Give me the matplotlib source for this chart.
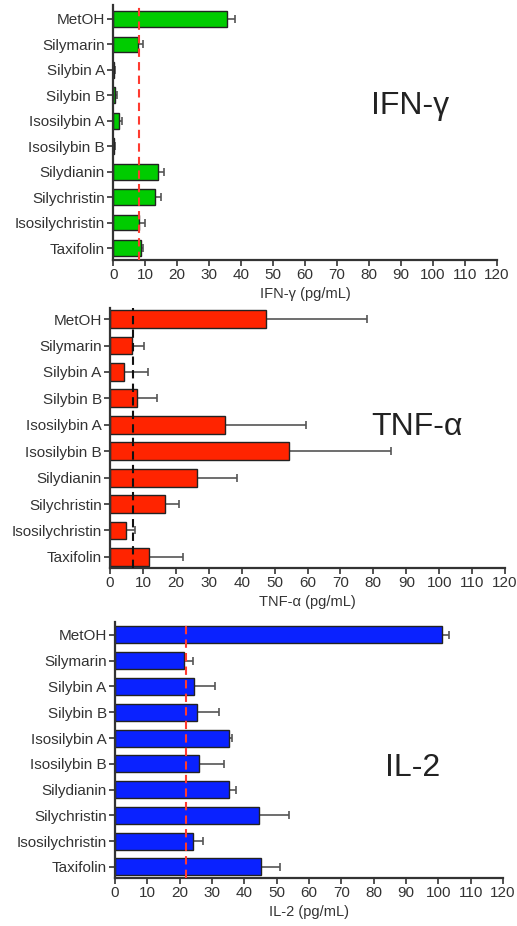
import numpy as np
import matplotlib
matplotlib.use('Agg')
import matplotlib.pyplot as plt

plt.rcParams['font.family'] = ['Liberation Sans', 'DejaVu Sans']

compounds = ['MetOH', 'Silymarin', 'Silybin A', 'Silybin B', 'Isosilybin A',
             'Isosilybin B', 'Silydianin', 'Silychristin', 'Isosilychristin', 'Taxifolin']

# upper error only
ifn_mean = [35.7, 7.8, 0.3, 0.5, 1.9, 0.3, 14.1, 13.2, 8.0, 8.6]
ifn_err = [2.3, 1.4, 0.3, 0.8, 1.0, 0.2, 1.8, 1.7, 1.9, 0.8]
ifn_ref = 8.1

tnf_mean = [47.3, 6.6, 4.3, 8.1, 35.0, 54.5, 26.3, 16.7, 4.9, 11.9]
tnf_err = [30.7, 3.8, 7.1, 6.1, 24.5, 30.8, 12.4, 4.4, 2.7, 10.2]
tnf_ref = 7.1

il2_mean = [101.2, 21.4, 24.4, 25.5, 35.4, 26.0, 35.4, 44.6, 24.2, 45.1]
il2_err = [2.2, 2.6, 6.5, 6.8, 0.9, 7.7, 1.9, 9.3, 3.1, 5.9]
il2_ref = 21.9

panels = [
    # mean, err, ref, color, ref color, name, xlabel, rect, ylim, bar h, text pos
    (ifn_mean, ifn_err, ifn_ref, '#00CC00', '#FF3B30', 'IFN-γ', 'IFN-γ (pg/mL)',
     [0.219, 0.7192, 0.742, 0.2754], (9.47, -0.55), 0.62, (93, 3.4)),
    (tnf_mean, tnf_err, tnf_ref, '#FF2400', '#111111', 'TNF-α', 'TNF-α (pg/mL)',
     [0.2128, 0.3866, 0.764, 0.2808], (9.42, -0.42), 0.68, (93.3, 4.1)),
    (il2_mean, il2_err, il2_ref, '#0A22FF', '#FF3B30', 'IL-2', 'IL-2 (pg/mL)',
     [0.2224, 0.0518, 0.7505, 0.2765], (9.43, -0.5), 0.66, (92.2, 5.15)),
]

fig = plt.figure(figsize=(5.17, 9.26), dpi=100)

for mean, err, ref, col, refcol, name, xlab, rect, ylim, bh, tpos in panels:
    ax = fig.add_axes(rect)
    y = np.arange(len(compounds))
    ax.barh(y, mean, height=bh, color=col, edgecolor='#222222', linewidth=1.0, zorder=2)
    ax.errorbar(mean, y, xerr=[np.zeros(len(mean)), err], fmt='none',
                ecolor='#555555', elinewidth=1.2, capsize=3, capthick=1.2, zorder=1)
    ax.axvline(ref, color=refcol, linestyle=(0, (4, 2.5)), linewidth=1.5, zorder=3)
    ax.set_xlim(0, 120)
    ax.set_ylim(*ylim)
    ax.set_xticks(np.arange(0, 121, 10))
    ax.set_yticks(y)
    ax.set_yticklabels(compounds)
    for s in ['top', 'right']:
        ax.spines[s].set_visible(False)
    for s in ['left', 'bottom']:
        ax.spines[s].set_linewidth(1.6)
        ax.spines[s].set_color('#333333')
    ax.tick_params(axis='both', labelsize=11, length=4, width=1.2, color='#333333',
                   labelcolor='#333333', pad=2)
    ax.set_xlabel(xlab, fontsize=10.5, color='#333333', labelpad=3)
    ax.text(tpos[0], tpos[1], name, fontsize=23, color='#222222', ha='center', va='center')

fig.savefig('out.png', dpi=100)
